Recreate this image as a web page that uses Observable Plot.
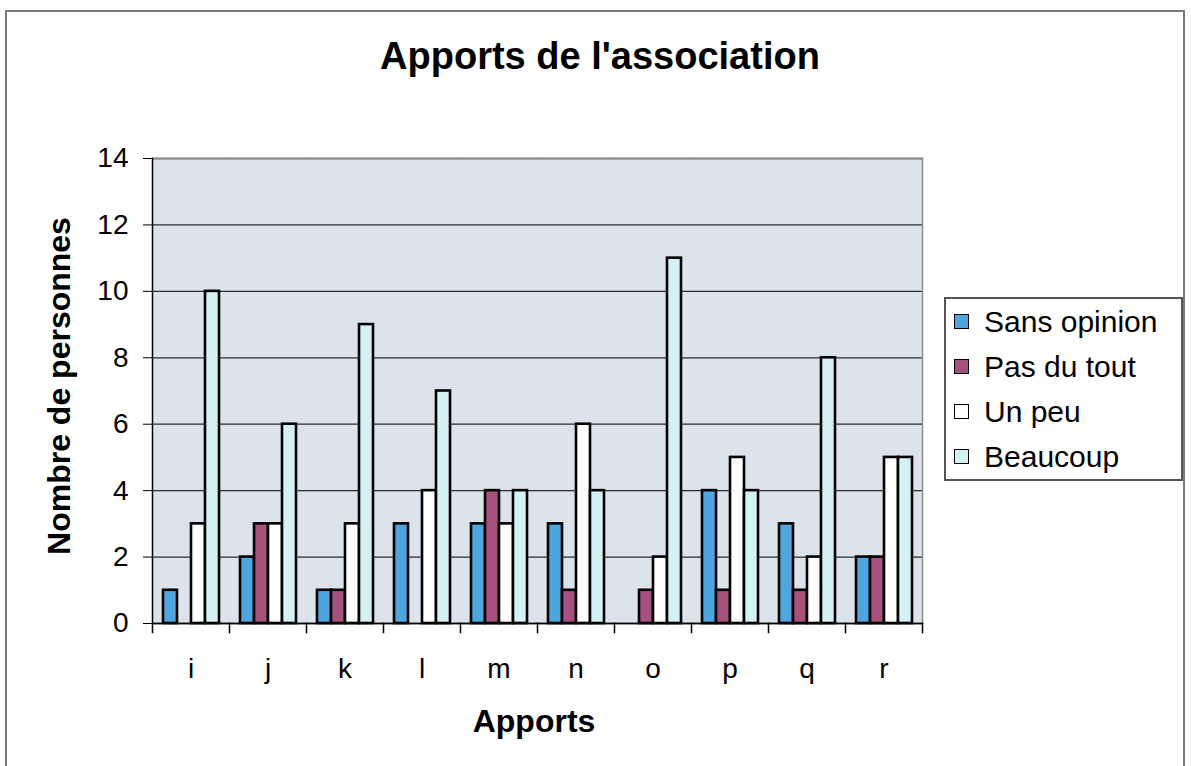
<!DOCTYPE html>
<html>
<head>
<meta charset="utf-8">
<script src="https://cdn.jsdelivr.net/npm/d3@7"></script>
<script src="https://cdn.jsdelivr.net/npm/@observablehq/plot@0.6"></script>
<style>
  html, body { margin: 0; padding: 0; background: #fff; overflow: hidden; }
  #wrap { position: relative; width: 1191px; height: 766px; font-family: "Liberation Sans", Arial, sans-serif; color: #000; }
  #outer { position: absolute; left: 5px; top: 10px; width: 1180px; height: 760px; border: 2px solid #7a7a7a; border-bottom: none; box-sizing: border-box; }
  #chart { position: absolute; left: 0; top: 0; }
  .title { position: absolute; left: 0; width: 1191px; text-align: center; font-weight: bold; white-space: nowrap; }
  #legend { position: absolute; left: 944px; top: 297px; width: 239px; height: 184px; border: 2px solid #555; box-sizing: border-box; background: #fff; }
  .row { height: 45px; display: flex; align-items: center; font-size: 30px; line-height: 45px; white-space: nowrap; }
  .sw { width: 13px; height: 13px; border: 1.5px solid #000; margin-left: 8px; margin-right: 15px; flex: none; }
</style>
</head>
<body>
<div id="wrap">
  <div id="outer"></div>
  <div id="chart"></div>
  <div class="title" style="top:37px; font-size:38px; line-height:38px; left:0; width:1200px;">Apports de l'association</div>
  <div class="title" style="top:705px; font-size:32px; line-height:32px; left:0; width:1068px;">Apports</div>
  <div class="title" style="left:-141px; width:400px; top:370px; font-size:32px; line-height:32px; transform: rotate(-90deg);">Nombre de personnes</div>
  <div id="legend"></div>
</div>
<script>
// ---- data ----
const categories = ["i", "j", "k", "l", "m", "n", "o", "p", "q", "r"];
const series = ["Sans opinion", "Pas du tout", "Un peu", "Beaucoup"];
const sansOpinion = [1, 2, 1, 3, 3, 3, 0, 4, 3, 2];
const pasDuTout   = [0, 3, 1, 0, 4, 1, 1, 1, 1, 2];
const unPeu       = [3, 3, 3, 4, 3, 6, 2, 5, 2, 5];
const beaucoup    = [10, 6, 9, 7, 4, 4, 11, 4, 8, 5];
const yTicks = [0, 2, 4, 6, 8, 10, 12, 14];

// ---- styles ----
const seriesColors = ["#4fa5de", "#a5507d", "#ffffff", "#d4f1f6"];
const plotBg = "#dde3ea";

const valuesBySeries = [sansOpinion, pasDuTout, unPeu, beaucoup];
const rows = categories.flatMap((c, i) =>
  series.map((s, k) => ({category: c, series: s, value: valuesBySeries[k][i]}))
);

const W = 1191, H = 766;
const mL = 152, mR = 269, mT = 158, mB = 143;
const innerH = H - mT - mB;

const chart = Plot.plot({
  width: W,
  height: H,
  marginLeft: mL,
  marginRight: mR,
  marginTop: mT,
  marginBottom: mB,
  style: {background: "transparent", fontFamily: "'Liberation Sans', Arial, sans-serif", fontSize: "28px", color: "#000", overflow: "visible"},
  fx: {domain: categories, padding: 0},
  x: {domain: series, paddingInner: 0, paddingOuter: 0.57, axis: null},
  y: {domain: [0, 14]},
  color: {domain: series, range: seriesColors},
  marks: [
    Plot.frame({fill: plotBg, stroke: "none", shapeRendering: "crispEdges"}),
    Plot.gridY(yTicks, {stroke: "#2a2a2a", strokeOpacity: 1, strokeWidth: 1.3}),
    Plot.frame({anchor: "top", stroke: "#8a8a8a", strokeWidth: 1.5}),
    Plot.frame({anchor: "right", facetAnchor: "right", stroke: "#8a8a8a", strokeWidth: 1.5}),
    Plot.barY(rows, {fx: "category", x: "series", y: "value", fill: "series", stroke: "#000", strokeWidth: 2.6}),
    Plot.frame({anchor: "bottom", stroke: "#000", strokeWidth: 1.5}),
    Plot.frame({anchor: "left", facetAnchor: "left", insetBottom: -9, stroke: "#000", strokeWidth: 1.5}),
    Plot.frame({anchor: "right", insetTop: innerH, insetBottom: -9, stroke: "#000", strokeWidth: 1.5}),
    Plot.axisY(yTicks, {anchor: "left", tickSize: 9, tickPadding: 15, fontSize: 28, label: null, stroke: "#000"}),
    Plot.axisFx({anchor: "bottom", tickSize: 0, tickPadding: 35, fontSize: 28, label: null})
  ]
});
document.getElementById("chart").appendChild(chart);

// legend
const legend = document.getElementById("legend");
series.forEach((s, k) => {
  const row = document.createElement("div");
  row.className = "row";
  const sw = document.createElement("span");
  sw.className = "sw";
  sw.style.background = seriesColors[k];
  const label = document.createElement("span");
  label.textContent = s;
  row.appendChild(sw);
  row.appendChild(label);
  legend.appendChild(row);
});
</script>
</body>
</html>
